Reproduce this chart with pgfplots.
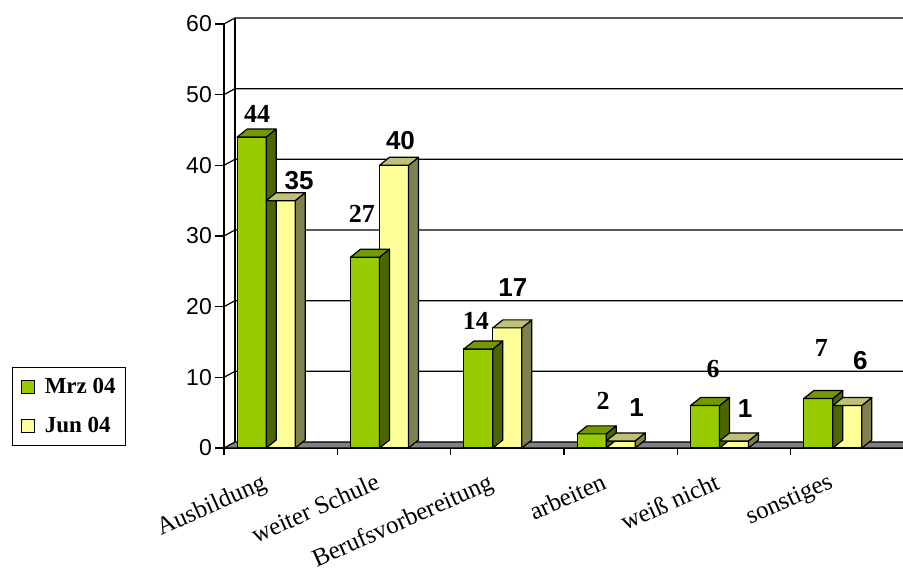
\documentclass[border=0pt]{standalone}
\usepackage{fontspec}
\setmainfont{Liberation Serif}
\newfontfamily\arial{Liberation Sans}
\usepackage{pgfplots}
\usepackage{pgfplotstable}
\pgfplotsset{compat=1.18}
\definecolor{gfront}{HTML}{99CC00}
\definecolor{gtop}{HTML}{739900}
\definecolor{gside}{HTML}{4D6600}
\definecolor{yfront}{HTML}{FFFF99}
\definecolor{ytop}{HTML}{C0C078}
\definecolor{yside}{HTML}{808050}
\definecolor{floorgray}{HTML}{808080}

% mdx/jdx: label offset from category centre (pt); mdy/jdy: label centre above bar top (pt)
\pgfplotstableread{
x mrz jun mdx mdy jdx jdy
0 44 35 -23.5 23 18.5 20
1 27 40 -32 43 6.5 25
2 14 17 -31.5 28 5.5 40.5
3 2 1 -17.5 32.5 16 33
4 6 1 -21 36.5 11 32
5 7 6 -26 51 13 45
}\data

\begin{document}
\begin{tikzpicture}
\path[use as bounding box] (0pt,0pt) rectangle (903pt,573pt);
\begin{axis}[
  at={(224pt,125pt)}, anchor=south west,
  scale only axis, width=680pt, height=424pt,
  xmin=-0.5, xmax=5.5, ymin=0, ymax=60,
  clip=false,
  axis x line*=bottom, axis y line*=left,
  axis line style={line width=1.5pt, -},
  ytick={0,10,...,60},
  xtick={0,...,5},
  xticklabels={Ausbildung, weiter Schule, Berufsvorbereitung, arbeiten, weiß nicht, sonstiges},
  minor xtick={-0.5,0.5,...,4.5},
  tick align=outside,
  major tick length=9pt, minor tick length=7pt,
  major x tick style={draw=none},
  tick style={line width=1.2pt, black},
  /pgf/number format/assume math mode=true,
  yticklabel style={font=\arial\fontsize{23}{26}\selectfont, inner sep=0pt, xshift=-3pt},
  xticklabel style={font=\fontsize{25}{29}\selectfont, inner sep=0pt, xshift=-20pt, yshift=-15pt, rotate=24, anchor=north east},
  legend style={at={(axis description cs:-0.3118,0.191)}, anchor=north west, draw=black, line width=1.2pt,
    font=\bfseries\fontsize{23}{26}\selectfont, inner xsep=8pt, inner ysep=9pt, row sep=18pt,
    /tikz/every odd column/.append style={column sep=8pt}},
  legend cell align=left,
  every node near coord/.append style={anchor=center, xshift=\ldx pt, yshift=\ldy pt, text=black, inner sep=0pt},
]
% back wall and floor
\pgfplotsinvokeforeach{10,20,30,40,50,60}{
  \draw[line width=1.2pt] (axis cs:-0.5,#1) -- ++(11pt,6pt) -- ([shift={(11pt,6pt)}]axis cs:5.5,#1);
}
\draw[line width=1.2pt] ([shift={(11pt,6pt)}]axis cs:-0.5,0) -- ([shift={(11pt,6pt)}]axis cs:-0.5,60);
\filldraw[fill=floorgray, draw=black, line width=1.2pt] (axis cs:-0.5,0) -- ++(11pt,6pt) -- ([shift={(11pt,6pt)}]axis cs:5.5,0) -- (axis cs:5.5,0) -- cycle;

% Mrz 04
\addplot[ybar, bar width=29pt, bar shift=-29pt, fill=gfront, draw=black, line width=1.2pt,
  legend image code/.code={\draw[fill=gfront, draw=black, line width=1.2pt] (0pt,-6.5pt) rectangle (13pt,6.5pt);},
  visualization depends on={\thisrow{mdx} \as \ldx},
  visualization depends on={\thisrow{mdy} \as \ldy},
  nodes near coords={\fontspec{Liberation Serif}\bfseries\fontsize{26}{30}\selectfont\pgfmathprintnumber{\pgfplotspointmeta}},
] table[x=x, y=mrz]{\data};
\addlegendentry{Mrz 04}
\addplot[forget plot, only marks, scatter, mark=*, mark size=0pt,
  visualization depends on={\thisrow{mrz} \as \bv},
  scatter/@pre marker code/.code={
    \pgfmathsetmacro\hh{\bv*7.0667}
    \pgfmathsetmacro\hb{8-\hh}
    \filldraw[fill=gside, draw=black, line width=1.2pt, line join=round] (-14.5pt,0pt) -- (-4.5pt,8pt) -- (-4.5pt,\hb pt) -- (-14.5pt,-\hh pt) -- cycle;
    \filldraw[fill=gtop, draw=black, line width=1.2pt, line join=round] (-43.5pt,0pt) -- (-33.5pt,8pt) -- (-4.5pt,8pt) -- (-14.5pt,0pt) -- cycle;
  },
  scatter/@post marker code/.code={},
] table[x=x, y=mrz]{\data};

% Jun 04
\addplot[ybar, bar width=29pt, bar shift=0pt, fill=yfront, draw=black, line width=1.2pt,
  legend image code/.code={\draw[fill=yfront, draw=black, line width=1.2pt] (0pt,-6.5pt) rectangle (13pt,6.5pt);},
  visualization depends on={\thisrow{jdx} \as \ldx},
  visualization depends on={\thisrow{jdy} \as \ldy},
  nodes near coords={\arial\bfseries\fontsize{26}{30}\selectfont\pgfmathprintnumber{\pgfplotspointmeta}},
] table[x=x, y=jun]{\data};
\addlegendentry{Jun 04}
\addplot[forget plot, only marks, scatter, mark=*, mark size=0pt,
  visualization depends on={\thisrow{jun} \as \bv},
  scatter/@pre marker code/.code={
    \pgfmathsetmacro\hh{\bv*7.0667}
    \pgfmathsetmacro\hb{8-\hh}
    \filldraw[fill=yside, draw=black, line width=1.2pt, line join=round] (14.5pt,0pt) -- (24.5pt,8pt) -- (24.5pt,\hb pt) -- (14.5pt,-\hh pt) -- cycle;
    \filldraw[fill=ytop, draw=black, line width=1.2pt, line join=round] (-14.5pt,0pt) -- (-4.5pt,8pt) -- (24.5pt,8pt) -- (14.5pt,0pt) -- cycle;
  },
  scatter/@post marker code/.code={},
] table[x=x, y=jun]{\data};
\end{axis}
\end{tikzpicture}
\end{document}
